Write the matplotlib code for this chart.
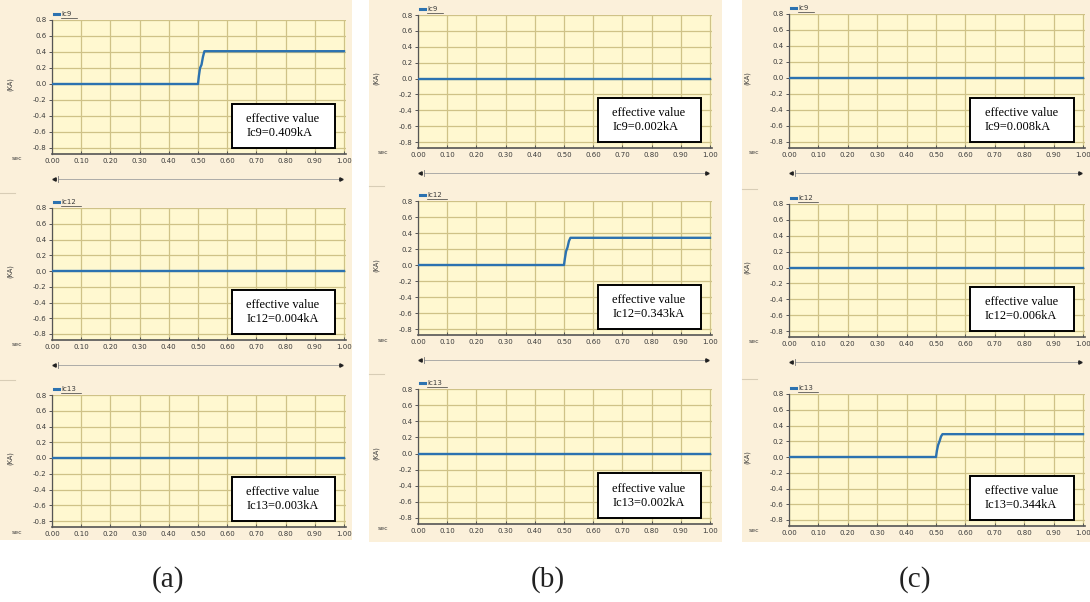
import matplotlib
matplotlib.use("Agg")
import matplotlib.pyplot as plt
from matplotlib.patches import Rectangle
from matplotlib.lines import Line2D
import numpy as np

# ---------------- data ----------------
t_flat = [0.0, 1.0]
v_flat = [0.0, 0.0]
t_step = [0.0, 0.500, 0.503, 0.507, 0.512, 0.517, 0.522, 1.0]
Ic9_a = [0.0, 0.0, 0.10, 0.20, 0.24, 0.34, 0.41, 0.41]
Ic12_b = [0.0, 0.0, 0.08, 0.17, 0.22, 0.30, 0.34, 0.34]
Ic13_c = [0.0, 0.0, 0.08, 0.15, 0.20, 0.26, 0.29, 0.29]

series_names = ["Ic9", "Ic12", "Ic13"]
panel_labels = ["(a)", "(b)", "(c)"]
effective_values = [
    ["Ic9=0.409kA", "Ic12=0.004kA", "Ic13=0.003kA"],
    ["Ic9=0.002kA", "Ic12=0.343kA", "Ic13=0.002kA"],
    ["Ic9=0.008kA", "Ic12=0.006kA", "Ic13=0.344kA"],
]
curves = [
    [(t_step, Ic9_a), (t_flat, v_flat), (t_flat, v_flat)],
    [(t_flat, v_flat), (t_step, Ic12_b), (t_flat, v_flat)],
    [(t_flat, v_flat), (t_flat, v_flat), (t_step, Ic13_c)],
]
y_ticks = [0.8, 0.6, 0.4, 0.2, 0.0, -0.2, -0.4, -0.6, -0.8]
x_ticks = [0.0, 0.1, 0.2, 0.3, 0.4, 0.5, 0.6, 0.7, 0.8, 0.9, 1.0]

# ---------------- layout (pixels) ----------------
W, H = 1090, 602
cols = [
    dict(x0=52, x1=344, rows=[(20, 148), (208, 334), (395, 521)], panel=(0, 352, 540), lab=168),
    dict(x0=418, x1=710, rows=[(15, 142), (201, 329), (389, 518)], panel=(369, 722, 542), lab=548),
    dict(x0=789, x1=1083, rows=[(14, 142), (204, 331), (394, 520)], panel=(742, 1090, 542), lab=915),
]

PANEL_BG = "#FBF0DA"
PLOT_BG = "#FFF8D0"
GRID_C = "#CFC287"
LINE_C = "#2C72B0"
AX_C = "#555555"
TXT_C = "#3A3A3A"

fig = plt.figure(figsize=(W / 100, H / 100), dpi=100)
fig.patch.set_facecolor("white")


def fxy(px, py):
    return px / W, 1 - py / H


for ci, col in enumerate(cols):
    pl, pr, pb = col["panel"]
    fig.patches.append(Rectangle((pl / W, 1 - pb / H), (pr - pl) / W, pb / H,
                                 transform=fig.transFigure, facecolor=PANEL_BG,
                                 edgecolor="none", zorder=-10))
    x0, x1 = col["x0"], col["x1"]
    for ri, (ytop, ybot) in enumerate(col["rows"]):
        extra = 6
        left, right = x0, x1 + 2
        top, bot = ytop, ybot + extra
        ax = fig.add_axes([left / W, 1 - bot / H, (right - left) / W, (bot - top) / H])
        ppu = (ybot - ytop) / 1.6
        ax.set_ylim(-0.8 - extra / ppu, 0.8)
        ax.set_xlim(0, 1.0 + 2 / ((x1 - x0) / 1.0))
        ax.set_facecolor(PLOT_BG)
        for yv in y_ticks:
            ax.axhline(yv, color=GRID_C, lw=0.9, zorder=0)
        for xv in x_ticks:
            ax.axvline(xv, color=GRID_C, lw=0.9, zorder=0)
        tx, ty = curves[ci][ri]
        ax.plot(tx, ty, color=LINE_C, lw=1.7, zorder=3, solid_joinstyle="round")
        ax.set_yticks(y_ticks)
        ax.set_yticklabels([f"{v:.1f}" for v in y_ticks])
        ax.set_xticks(x_ticks)
        ax.set_xticklabels([f"{v:.2f}" for v in x_ticks])
        ax.tick_params(axis="both", labelsize=5.0, colors=AX_C, labelcolor=TXT_C,
                       length=2.5, width=0.7, pad=1.5)
        ax.tick_params(axis="x", direction="in", pad=3)
        for s in ["top", "right"]:
            ax.spines[s].set_visible(False)
        ax.spines["left"].set_color(AX_C)
        ax.spines["left"].set_linewidth(0.9)
        ax.spines["bottom"].set_color(AX_C)
        ax.spines["bottom"].set_linewidth(1.2)

        # effective value box
        bx0, bx1 = 0.615, 0.97
        by0, by1 = -0.80, -0.245
        ax.add_patch(Rectangle((bx0, by0), bx1 - bx0, by1 - by0, facecolor="white",
                               edgecolor="black", lw=1.4, zorder=5))
        ax.text(0.665, (by0 + by1) / 2, "effective value\n" + effective_values[ci][ri],
                family=["Liberation Serif", "DejaVu Serif"], fontsize=8.9,
                ha="left", va="center", linespacing=1.25, color="black", zorder=6)

        # legend swatch + name
        lx, ly = fxy(x0 + 4, ytop - 6)
        fig.add_artist(Line2D([lx - 2 / W, lx + 3 / W], [ly, ly], color=LINE_C, lw=2.2,
                              transform=fig.transFigure))
        fig.text(*fxy(x0 + 9, ytop - 6), series_names[ri], fontsize=5.0, color=TXT_C,
                 ha="left", va="center")
        fig.add_artist(Line2D([(x0 + 9) / W, (x0 + 9 + 4 + 4 * len(series_names[ri])) / W],
                              [1 - (ytop - 2) / H] * 2, color=TXT_C, lw=0.5,
                              transform=fig.transFigure))

        # axis captions
        fig.text(*fxy(x0 - 42, (ytop + ybot) / 2), "(KA)", rotation=90, fontsize=4.8,
                 color=TXT_C, ha="center", va="center")
        fig.text(*fxy(x0 - 35, ybot + 11), "sec", fontsize=4.4, color=TXT_C,
                 ha="center", va="center")

        # scrollbar for the first two rows
        if ri < 2:
            sy = 1 - (ybot + 31) / H
            fig.add_artist(Line2D([(x0 + 6) / W, (x1 - 4) / W], [sy, sy], color="#A0A0A0",
                                  lw=0.6, transform=fig.transFigure))
            fig.add_artist(Line2D([(x0 + 2) / W], [sy], marker="<", markersize=2.4,
                                  color="#222222", transform=fig.transFigure))
            fig.add_artist(Line2D([(x1 - 3) / W], [sy], marker=">", markersize=2.4,
                                  color="#222222", transform=fig.transFigure))
            fig.add_artist(Line2D([(x0 + 6) / W] * 2, [sy - 3 / H, sy + 3 / H], color="#777777",
                                  lw=0.6, transform=fig.transFigure))
        # faint row separator stub
        if ri > 0:
            fy = 1 - (ytop - 15) / H
            fig.add_artist(Line2D([pl / W, (pl + 15) / W], [fy, fy], color="#D8CDB6",
                                  lw=0.8, transform=fig.transFigure))

    fig.text(*fxy(col["lab"], 580), panel_labels[ci], family=["Liberation Serif", "DejaVu Serif"],
             fontsize=21, ha="center", va="center", color="#222222")

fig.savefig("out.png", dpi=100)
